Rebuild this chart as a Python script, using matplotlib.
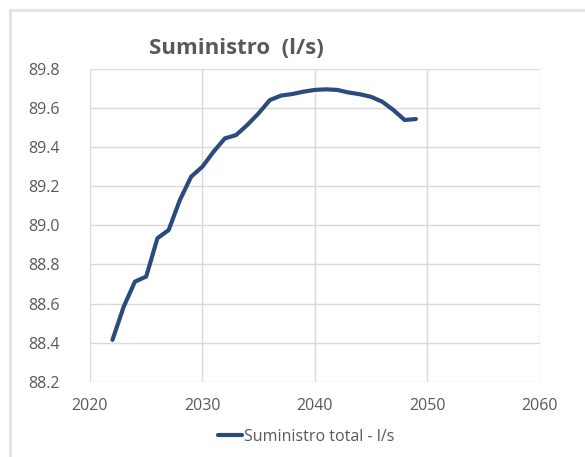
import matplotlib.pyplot as plt
from matplotlib.lines import Line2D

# ==========================================================
# Datos
# ==========================================================

years = list(range(2022, 2050))

suministro = [
    88.414, 88.584, 88.712, 88.738, 88.934, 88.976, 89.130, 89.249,
    89.300, 89.377, 89.445, 89.462, 89.514, 89.573, 89.641, 89.664,
    89.672, 89.684, 89.693, 89.696, 89.693, 89.680, 89.671, 89.658,
    89.633, 89.590, 89.539, 89.544,
]

y_ticks = [88.2, 88.4, 88.6, 88.8, 89.0, 89.2, 89.4, 89.6, 89.8]
x_ticks = [2020, 2030, 2040, 2050, 2060]

line_color = "#2b4a7e"
text_color = "#595959"
grid_color = "#d9d9d9"

plt.rcParams["font.family"] = ["Open Sans", "DejaVu Sans"]

# ==========================================================
# Figura
# ==========================================================

fig = plt.figure(
    figsize=(5.85, 4.57),
    dpi=100
)

# marco exterior del gráfico (solo arriba e izquierda visibles)
fig.add_artist(Line2D([10 / 585, 10 / 585], [0, 1 - 10 / 457],
                      color="#e3e3e3", linewidth=2))
fig.add_artist(Line2D([10 / 585, 1], [1 - 10 / 457, 1 - 10 / 457],
                      color="#e3e3e3", linewidth=2))

ax = fig.add_axes([90 / 585, 1 - 381.7 / 457, 449.5 / 585, 312.7 / 457])

ax.plot(
    years,
    suministro,
    color=line_color,
    linewidth=3,
    solid_joinstyle="round",
    solid_capstyle="round",
    label="Suministro total - l/s"
)

ax.set_xlim(2020, 2060)
ax.set_ylim(88.2, 89.8)
ax.set_xticks(x_ticks)
ax.set_yticks(y_ticks)
ax.set_yticklabels([f"{v:.1f}" for v in y_ticks])

ax.grid(True, color=grid_color, linewidth=1)
ax.set_axisbelow(True)

for spine in ax.spines.values():
    spine.set_visible(False)

ax.tick_params(
    length=0,
    labelsize=11.5,
    labelcolor=text_color,
    pad=12
)
ax.tick_params(axis="y", pad=22)

fig.text(
    236 / 585,
    1 - 48 / 457,
    "Suministro  (l/s)",
    ha="center",
    va="center",
    fontsize=16,
    fontweight="bold",
    color=text_color
)

leg = fig.legend(
    loc="center",
    bbox_to_anchor=(306 / 585, 1 - 437 / 457),
    frameon=False,
    fontsize=11.5,
    handlelength=1.5,
    handletextpad=0.1,
    labelcolor=text_color
)

fig.savefig("out.png", dpi=100)
